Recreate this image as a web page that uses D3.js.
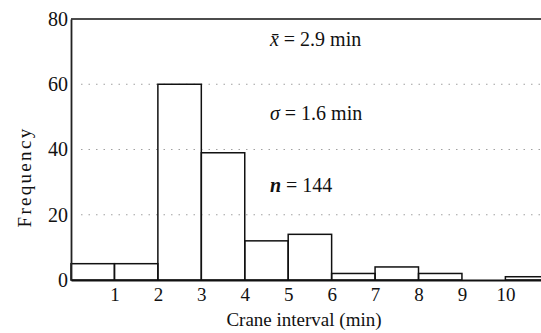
<!DOCTYPE html>
<html>
<head>
<meta charset="utf-8">
<script src="https://cdn.jsdelivr.net/npm/d3@7"></script>
<style>
  body { margin: 0; background: #fff; }
  svg { display: block; font-family: "Liberation Serif", "DejaVu Serif", serif; }
</style>
</head>
<body>
<div id="chart"></div>
<script>
// histogram bins (minutes) and counts
const binStarts = [0, 1, 2, 3, 4, 5, 6, 7, 8, 9, 10];
const counts = [5, 5, 60, 39, 12, 14, 2, 4, 2, 0, 1];
const yTicks = [0, 20, 40, 60, 80];
const xTicks = [1, 2, 3, 4, 5, 6, 7, 8, 9, 10];
const statNames = ["x̄", "σ", "n"];
const statTexts = [" = 2.9 min", " = 1.6 min", " = 144"];
const statLevels = [71.7, 49, 27];

const width = 541, height = 333;
const margin = {top: 19, right: 0, bottom: 53, left: 71};

const x = d3.scaleLinear().domain([0, 10.82]).range([margin.left, width]);
const y = d3.scaleLinear().domain([0, 80]).range([height - margin.bottom, margin.top]);

const svg = d3.select("#chart").append("svg")
  .attr("width", width)
  .attr("height", height);

// faint dotted grid
svg.append("g")
  .selectAll("line")
  .data([20, 40, 60])
  .join("line")
  .attr("x1", margin.left + 10)
  .attr("x2", width)
  .attr("y1", d => y(d))
  .attr("y2", d => y(d))
  .attr("stroke", "#a0a0a0")
  .attr("stroke-width", 1)
  .attr("stroke-dasharray", "1.5,6");

// bars
svg.append("g")
  .selectAll("rect")
  .data(binStarts)
  .join("rect")
  .attr("x", d => x(d))
  .attr("y", (d, i) => y(counts[i]))
  .attr("width", d => x(d + 1) - x(d))
  .attr("height", (d, i) => y(0) - y(counts[i]))
  .attr("fill", "none")
  .attr("stroke", "#111")
  .attr("stroke-width", 1.5);

// top frame line at 80
svg.append("line")
  .attr("x1", x(0)).attr("x2", width)
  .attr("y1", y(80)).attr("y2", y(80))
  .attr("stroke", "#111").attr("stroke-width", 1.5);

// y axis
const yAxis = svg.append("g")
  .attr("transform", `translate(${x(0)},0)`)
  .call(d3.axisLeft(y).tickValues(yTicks).tickSize(0).tickPadding(3));
yAxis.select(".domain").attr("stroke", "#222").attr("stroke-width", 1.8);
yAxis.selectAll("text").attr("font-size", 20).attr("fill", "#111")
  .attr("font-family", "Liberation Serif, serif");

// x axis
const xAxis = svg.append("g")
  .attr("transform", `translate(0,${y(0)})`)
  .call(d3.axisBottom(x).tickValues(xTicks).tickSize(0).tickPadding(8));
xAxis.select(".domain").attr("stroke", "#111").attr("stroke-width", 1.8);
xAxis.selectAll("text").attr("font-size", 19).attr("fill", "#111")
  .attr("font-family", "Liberation Serif, serif");

// axis titles
svg.append("text")
  .attr("transform", `translate(31,177) rotate(-90)`)
  .attr("text-anchor", "middle")
  .attr("font-size", 19)
  .attr("letter-spacing", 2.3)
  .attr("fill", "#111")
  .text("Frequency");

svg.append("text")
  .attr("x", 304)
  .attr("y", 326)
  .attr("text-anchor", "middle")
  .attr("font-size", 19)
  .attr("fill", "#111")
  .text("Crane interval (min)");

// summary statistics
svg.append("g").attr("font-size", 20).attr("fill", "#111")
  .selectAll("text")
  .data(statNames)
  .join("text")
  .attr("x", x(4.58))
  .attr("y", (d, i) => y(statLevels[i]))
  .each(function(d, i) {
    const t = d3.select(this);
    t.append("tspan").attr("font-style", "italic")
      .attr("font-weight", d === "n" ? "bold" : "normal")
      .text(d);
    t.append("tspan").text(statTexts[i]);
  });
</script>
</body>
</html>
